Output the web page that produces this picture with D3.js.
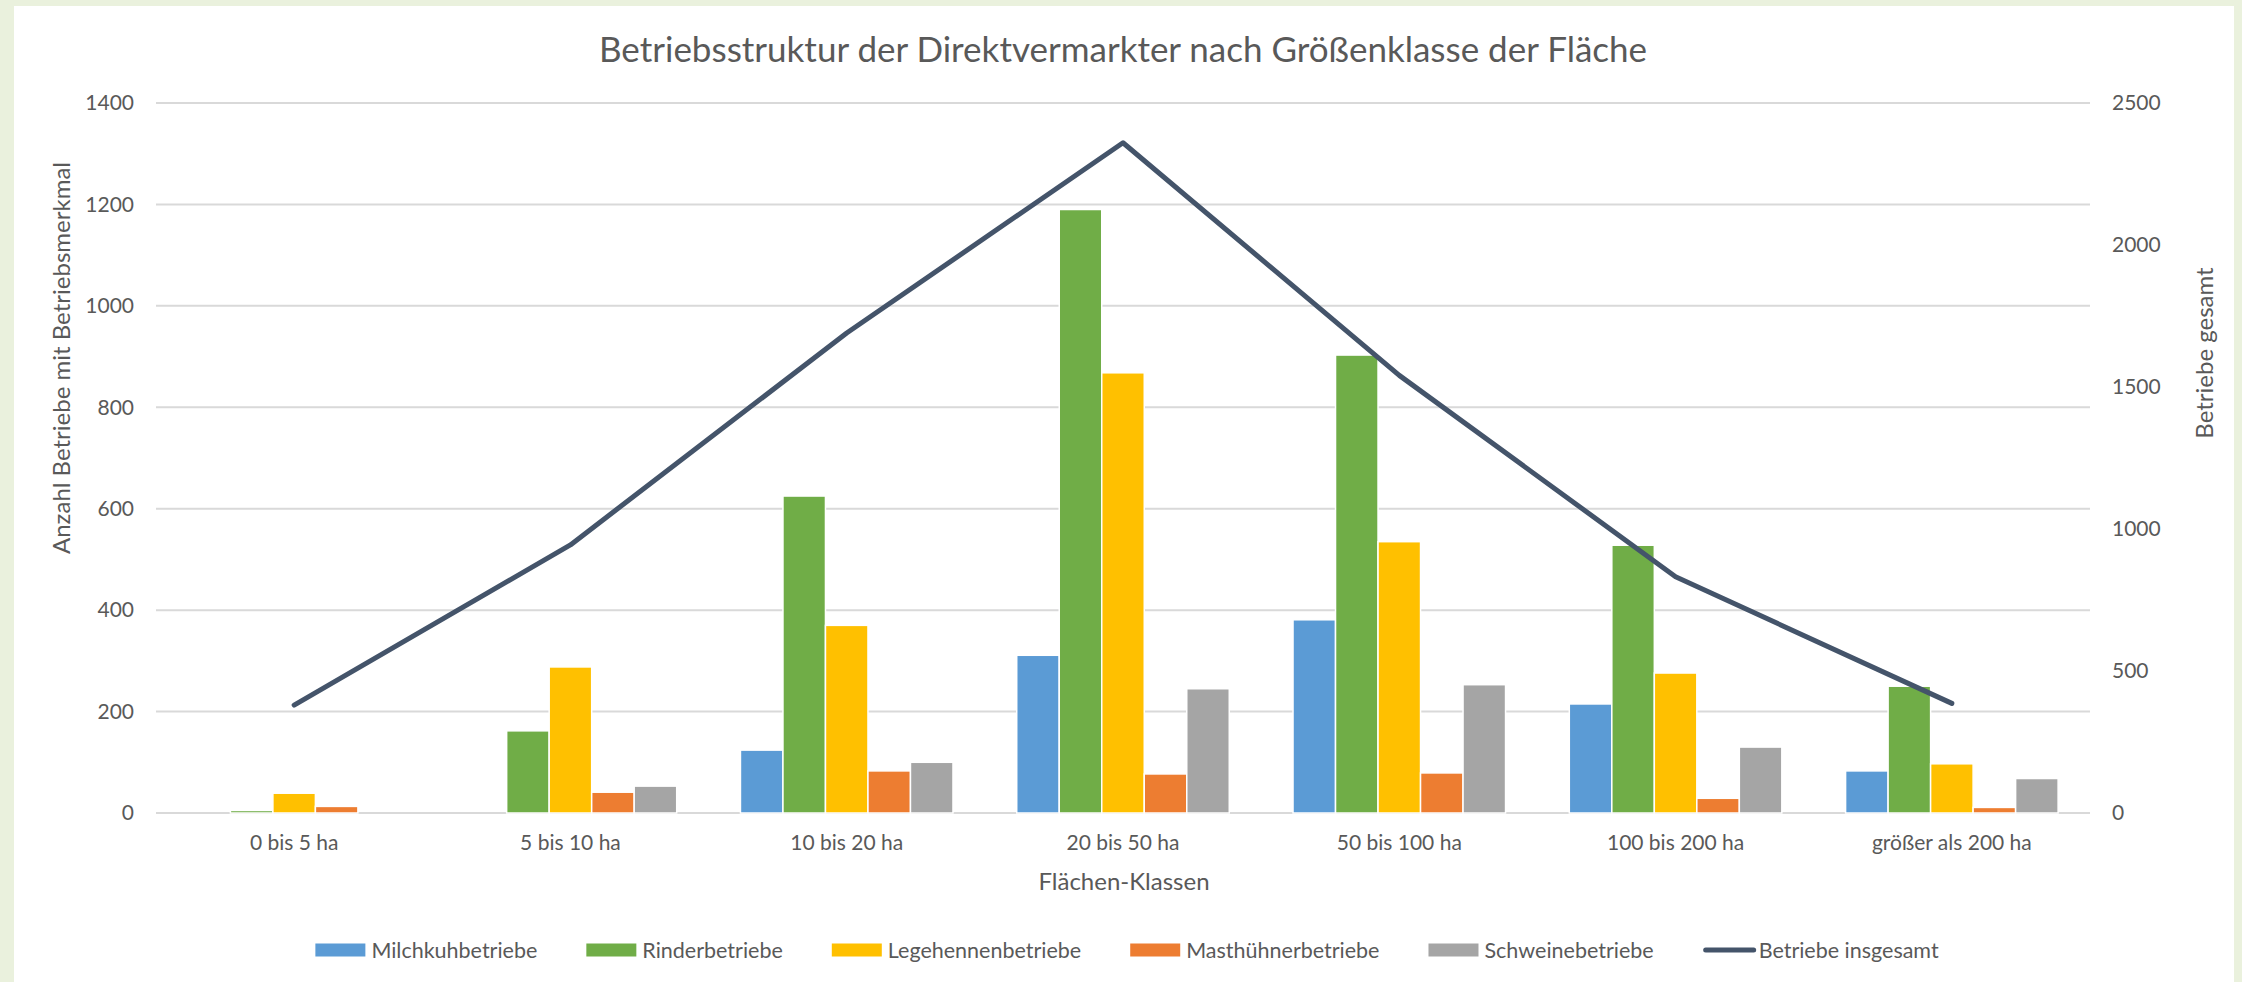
<!DOCTYPE html>
<html>
<head>
<meta charset="utf-8">
<script src="https://cdn.jsdelivr.net/npm/d3@7"></script>
<style>
  html, body { margin: 0; padding: 0; background: #EAF1DD; }
  svg { display: block; }
  text { font-family: Lato, "Noto Sans", sans-serif; fill: #595959; }
</style>
</head>
<body>
<svg id="chart" width="2242" height="982"></svg>
<script>
const categories = ["0 bis 5 ha", "5 bis 10 ha", "10 bis 20 ha", "20 bis 50 ha", "50 bis 100 ha", "100 bis 200 ha", "größer als 200 ha"];
const seriesNames = ["Milchkuhbetriebe", "Rinderbetriebe", "Legehennenbetriebe", "Masthühnerbetriebe", "Schweinebetriebe"];
const milchkuh    = [0, 0, 124, 311, 381, 215, 83];
const rinder      = [5, 162, 625, 1190, 903, 528, 250];
const legehennen  = [39, 288, 370, 868, 535, 276, 97];
const masthuehner = [13, 41, 83, 77, 79, 29, 11];
const schweine    = [0, 53, 100, 245, 253, 130, 68];
const lineName = "Betriebe insgesamt";
const insgesamt   = [380, 944, 1690, 2360, 1541, 832, 386];
const leftTicks = [0, 200, 400, 600, 800, 1000, 1200, 1400];
const rightTicks = [0, 500, 1000, 1500, 2000, 2500];

const colors = ["#5B9BD5", "#70AD47", "#FFC000", "#ED7D31", "#A5A5A5"];
const lineColor = "#44546A";
const seriesValues = [milchkuh, rinder, legehennen, masthuehner, schweine];

const svg = d3.select("#chart");
// chart area
svg.append("rect").attr("x", 14).attr("y", 6).attr("width", 2220).attr("height", 990).attr("fill", "#fff");

const L = 156, R = 2090, T = 103, B = 813;
const x = d3.scaleBand().domain(categories).range([L, R]).paddingInner(1.5/6.5).paddingOuter(0.75/6.5);
const xi = d3.scaleBand().domain(seriesNames).range([0, x.bandwidth()]);
const yL = d3.scaleLinear().domain([0, 1400]).range([B, T]);
const yR = d3.scaleLinear().domain([0, 2500]).range([B, T]);

// gridlines
svg.append("g").selectAll("line").data(leftTicks).join("line")
  .attr("x1", L).attr("x2", R)
  .attr("y1", d => yL(d)).attr("y2", d => yL(d))
  .attr("stroke", "#D9D9D9").attr("stroke-width", 2);

// left axis
const gL = svg.append("g").attr("transform", `translate(${L - 22},0)`)
  .call(d3.axisLeft(yL).tickValues(leftTicks).tickSize(0).tickPadding(0).tickFormat(d3.format("d")));
gL.select(".domain").remove();
gL.selectAll("text").attr("font-size", 21).attr("fill", "#595959").style("font-family", "Lato");

// right axis
const gR = svg.append("g").attr("transform", `translate(${R + 22},0)`)
  .call(d3.axisRight(yR).tickValues(rightTicks).tickSize(0).tickPadding(0).tickFormat(d3.format("d")));
gR.select(".domain").remove();
gR.selectAll("text").attr("font-size", 21).attr("fill", "#595959").style("font-family", "Lato");

// bars
const rows = categories.map((c, i) => ({ c, vals: seriesNames.map((s, k) => ({ s, k, v: seriesValues[k][i] })) }));
const groups = svg.append("g").selectAll("g").data(rows).join("g")
  .attr("transform", d => `translate(${x(d.c)},0)`);
groups.selectAll("rect").data(d => d.vals.filter(e => e.v > 0)).join("rect")
  .attr("x", d => xi(d.s))
  .attr("width", xi.bandwidth())
  .attr("y", d => yL(d.v))
  .attr("height", d => yL(0) - yL(d.v))
  .attr("fill", d => colors[d.k])
  .attr("stroke", "#fff").attr("stroke-width", 1.5);

// line
const line = d3.line().x((d, i) => x(categories[i]) + x.bandwidth() / 2).y(d => yR(d));
svg.append("path").datum(insgesamt).attr("d", line)
  .attr("fill", "none").attr("stroke", lineColor).attr("stroke-width", 5)
  .attr("stroke-linejoin", "round").attr("stroke-linecap", "round");

// category labels
const gX = svg.append("g").attr("transform", `translate(0,${B})`)
  .call(d3.axisBottom(x).tickSize(0).tickPadding(22));
gX.select(".domain").remove();
gX.selectAll("text").attr("font-size", 21).attr("fill", "#595959").style("font-family", "Lato");

// titles
svg.append("text").attr("x", 1123).attr("y", 62).attr("text-anchor", "middle")
  .attr("font-size", 35).text("Betriebsstruktur der Direktvermarkter nach Größenklasse der Fläche");
svg.append("text").attr("transform", "translate(70,358) rotate(-90)").attr("text-anchor", "middle")
  .attr("font-size", 24).text("Anzahl Betriebe mit Betriebsmerkmal");
svg.append("text").attr("transform", "translate(2213,353) rotate(-90)").attr("text-anchor", "middle")
  .attr("font-size", 24).text("Betriebe gesamt");
svg.append("text").attr("x", 1124).attr("y", 890).attr("text-anchor", "middle")
  .attr("font-size", 24).text("Flächen-Klassen");

// legend
const legendItems = seriesNames.map((s, k) => ({ name: s, color: colors[k], type: "rect" }))
  .concat([{ name: lineName, color: lineColor, type: "line" }]);
const lg = svg.append("g");
let cx = 0;
const ly = 950;
legendItems.forEach(it => {
  const g = lg.append("g").attr("transform", `translate(${cx},0)`);
  if (it.type === "rect") {
    g.append("rect").attr("x", 0).attr("y", ly - 6.5).attr("width", 50).attr("height", 13).attr("fill", it.color);
  } else {
    g.append("line").attr("x1", 3).attr("x2", 51).attr("y1", ly).attr("y2", ly)
      .attr("stroke", it.color).attr("stroke-width", 5).attr("stroke-linecap", "round");
  }
  const t = g.append("text").attr("x", 56).attr("y", ly).attr("dy", "0.35em").attr("font-size", 21.5).text(it.name);
  cx += 56 + t.node().getComputedTextLength() + 49;
});
const total = cx - 49;
lg.attr("transform", `translate(${1127 - total / 2},0)`);
</script>
</body>
</html>
